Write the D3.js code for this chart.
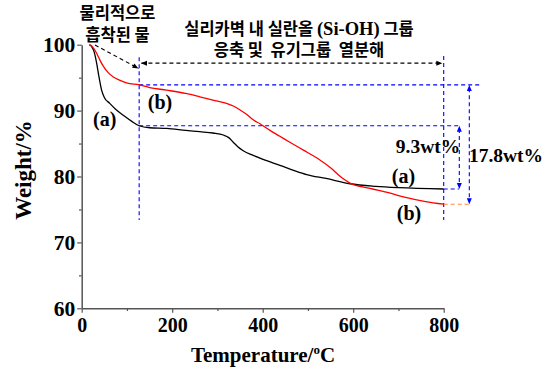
<!DOCTYPE html>
<html>
<head>
<meta charset="utf-8">
<script src="https://cdn.jsdelivr.net/npm/d3@7"></script>
<style>
  body { margin: 0; background: #fff; }
  svg text { font-family: "Liberation Serif", "Times New Roman", serif; font-weight: bold; }
  svg text.kr, svg tspan.kr { font-family: "Noto Sans CJK KR", sans-serif; font-weight: 700; }
</style>
</head>
<body>
<div id="chart"></div>
<script>
// TGA curves (a) and (b)
const tempA = [17, 22, 28, 33, 38, 44, 50, 62, 75, 92, 110, 127, 150, 188, 230, 261, 290, 313, 325, 335, 345, 357, 379, 401, 438, 470, 497, 540, 593, 650, 700, 800];
const weightA = [100, 99.7, 98.8, 97.2, 95.2, 93.1, 92.0, 91.1, 90.2, 89.3, 88.4, 87.7, 87.4, 87.3, 87.0, 86.8, 86.6, 86.3, 85.9, 85.2, 84.5, 83.9, 83.2, 82.6, 81.7, 80.9, 80.3, 79.7, 78.9, 78.5, 78.3, 78.1];
const tempB = [17, 22, 28, 33, 40, 48, 58, 70, 85, 99, 127, 150, 188, 230, 261, 290, 320, 335, 350, 365, 379, 394, 416, 438, 460, 490, 520, 552, 575, 593, 637, 680, 711, 760, 800];
const weightB = [100, 99.8, 99.3, 98.7, 97.7, 96.7, 95.8, 95.1, 94.6, 94.2, 93.9, 93.5, 93.1, 92.6, 92.1, 91.6, 91.1, 90.7, 90.1, 89.4, 88.6, 88.0, 87.0, 86.1, 85.2, 84.0, 82.8, 81.2, 79.8, 79.0, 78.2, 77.5, 76.9, 76.2, 75.8];
const xTicks = [0, 200, 400, 600, 800];
const xMinor = [100, 300, 500, 700];
const yTicks = [60, 70, 80, 90, 100];
const yMinor = [65, 75, 85, 95];
const lossA = '9.3wt%';
const lossB = '17.8wt%';

const width = 551, height = 373;
const svg = d3.select('#chart').append('svg')
  .attr('width', width)
  .attr('height', height);

const x = d3.scaleLinear().domain([0, 800]).range([81.7, 443.7]);
const y = d3.scaleLinear().domain([60, 100]).range([308.3, 44.7]);

const serif = '"Liberation Serif", "Times New Roman", serif';

// axes
const axisColor = '#555';
function styleAxis(g, fontSize) {
  g.attr('font-family', null).attr('font-size', null);
  g.select('.domain').attr('stroke', axisColor).attr('stroke-width', 1.5);
  g.selectAll('.tick line').attr('stroke', axisColor).attr('stroke-width', 1.2);
  g.selectAll('.tick text')
    .attr('fill', '#000')
    .attr('font-family', serif)
    .style('font-weight', 'bold')
    .style('font-size', fontSize + 'px');
}
const gx = svg.append('g').attr('transform', `translate(0,${y(60)})`)
  .call(d3.axisBottom(x).tickValues(xTicks).tickSize(4.5).tickSizeOuter(0).tickPadding(5));
styleAxis(gx, 20);
const gxm = svg.append('g').attr('transform', `translate(0,${y(60)})`)
  .call(d3.axisBottom(x).tickValues(xMinor).tickSize(2.7).tickFormat(''));
gxm.select('.domain').remove();
gxm.selectAll('line').attr('stroke', axisColor).attr('stroke-width', 1.2);

const gy = svg.append('g').attr('transform', `translate(${x(0)},0)`)
  .call(d3.axisLeft(y).tickValues(yTicks).tickSize(4.5).tickSizeOuter(0).tickPadding(2));
styleAxis(gy, 21.5);
const gym = svg.append('g').attr('transform', `translate(${x(0)},0)`)
  .call(d3.axisLeft(y).tickValues(yMinor).tickSize(2.7).tickFormat(''));
gym.select('.domain').remove();
gym.selectAll('line').attr('stroke', axisColor).attr('stroke-width', 1.2);

// axis titles
svg.append('text')
  .attr('transform', `translate(31,170) rotate(-90)`)
  .attr('text-anchor', 'middle')
  .style('font-size', '23px')
  .text('Weight/%');
const xt = svg.append('text')
  .attr('x', 263).attr('y', 362)
  .attr('text-anchor', 'middle')
  .style('font-size', '21px');
xt.append('tspan').text('Temperature/');
xt.append('tspan').attr('dy', -8).style('font-size', '13px').text('o');
xt.append('tspan').attr('dy', 8).text('C');

// helper: dashed line in data coords
function dline(x1, y1, x2, y2, color) {
  return svg.append('line')
    .attr('x1', x(x1)).attr('y1', y(y1))
    .attr('x2', x(x2)).attr('y2', y(y2))
    .attr('stroke', color)
    .attr('stroke-width', 1.1)
    .attr('stroke-dasharray', '4,3');
}
// small filled arrowhead at pixel (px,py) pointing in direction angle (deg)
function arrowHead(px, py, angle, color) {
  svg.append('path')
    .attr('d', 'M0,0 L-6,-2.5 L-6,2.5 Z')
    .attr('fill', color)
    .attr('transform', `translate(${px},${py}) rotate(${angle})`);
}

// guide lines
const blue = '#0000ff';
dline(127, 98.1, 127, 73.4, blue);
dline(800, 98.3, 800, 73.4, blue);
dline(127, 93.9, 880, 93.9, blue);
dline(127, 87.7, 838, 87.7, blue);
dline(800, 78.1, 834, 78.1, blue);
dline(800, 75.8, 857, 75.8, '#ff8c3a');

// loss arrows
dline(834.5, 87.2, 834.5, 78.6, blue);
arrowHead(x(834.5), y(87.7), -90, blue);
arrowHead(x(834.5), y(78.1), 90, blue);
dline(856.6, 93.4, 856.6, 76.3, blue);
arrowHead(x(856.6), y(93.9), -90, blue);
arrowHead(x(856.6), y(75.8), 90, blue);

// black region arrows
dline(29.4, 99.95, 125.5, 96.4, '#000');
{
  const dx = x(125.5) - x(29.4), dy = y(96.4) - y(99.95);
  arrowHead(x(125.5), y(96.4), Math.atan2(dy, dx) * 180 / Math.PI, '#000');
}
dline(132, 97.2, 796, 97.2, '#000');
arrowHead(x(131), y(97.2), 180, '#000');
arrowHead(x(797), y(97.2), 0, '#000');

// curves
const line = d3.line().x(d => x(d[0])).y(d => y(d[1])).curve(d3.curveMonotoneX);
svg.append('path')
  .datum(tempA.map((t, i) => [t, weightA[i]]))
  .attr('d', line)
  .attr('fill', 'none').attr('stroke', '#000').attr('stroke-width', 1.3);
svg.append('path')
  .datum(tempB.map((t, i) => [t, weightB[i]]))
  .attr('d', line)
  .attr('fill', 'none').attr('stroke', '#ff0000').attr('stroke-width', 1.3);

// curve labels
function label(px, py, txt, size, anchor) {
  svg.append('text').attr('x', px).attr('y', py)
    .attr('text-anchor', anchor || 'middle')
    .style('font-size', size + 'px')
    .text(txt);
}
label(104.7, 126, '(a)', 20);
label(160, 109, '(b)', 20);
label(403.5, 183, '(a)', 20);
label(409, 220, '(b)', 20);
label(428, 153, lossA, 19.5);
label(506, 162, lossB, 19.5);

// Korean annotations
const krSize = 16.5;
function krText(px, py, parts) {
  const t = svg.append('text').attr('x', px).attr('y', py)
    .attr('text-anchor', 'middle')
    .attr('xml:space', 'preserve')
    .style('white-space', 'pre');
  parts.forEach(p => {
    const s = t.append('tspan').text(p.t);
    if (p.serif) s.style('font-size', '18.5px');
    else s.attr('class', 'kr').style('font-size', krSize + 'px');
  });
}
krText(117.5, 18.5, [{ t: '물리적으로' }]);
krText(117.5, 40.5, [{ t: '흡착된 물' }]);
krText(299, 34.5, [{ t: '실리카벽 내 실란올 ' }, { t: '(Si-OH)', serif: true }, { t: ' 그룹' }]);
krText(299, 56, [{ t: '응축 및  유기그룹  열분해' }]);
</script>
</body>
</html>
